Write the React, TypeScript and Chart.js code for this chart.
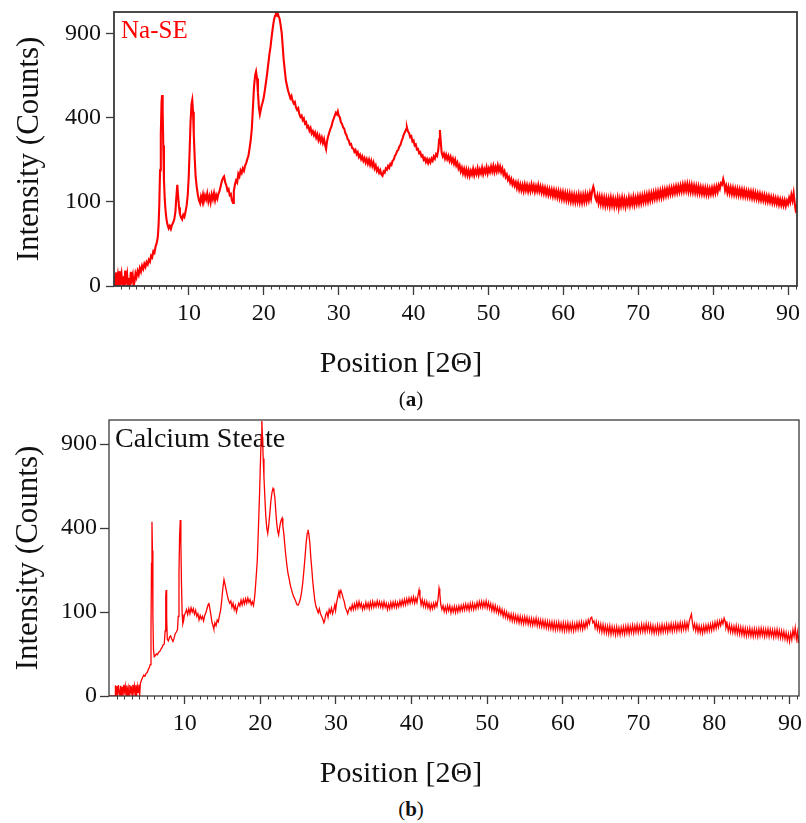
import React, { useEffect, useRef } from 'react';
import { Chart, LinearScale, registerables } from 'chart.js';

// ---------------- data (2θ in degrees, intensity in counts) ----------------
const xMajorTicks = [10, 20, 30, 40, 50, 60, 70, 80, 90];
const yTickValues = [0, 100, 400, 900];
const xTitleText = 'Position [2Θ]';
const yTitleText = 'Intensity (Counts)';

const naSE: [number, number][] = [
  [0,1.2],[0.12,0],[0.25,2.6],[0.37,0.2],[0.5,1.6],[0.62,0],[0.75,3.1],[0.87,0.4],[1.0,1.9],[1.12,0],[1.25,1.3],[1.37,0],[1.5,3.4],[1.62,0.5],[1.75,2.0],[1.87,0],[2.0,0.9],[2.12,0],[2.25,2.8],[2.37,0.6],[2.5,1.7],[2.62,0],[2.75,0.3],[2.87,2.2],[3.0,1.1],
  [3.15,3.2],[3.3,1.8],[3.45,4.5],[3.6,2.9],[3.75,5.8],[3.9,4.1],[4.05,6.9],[4.2,5.2],[4.35,8.1],[4.5,6.6],[4.65,9.8],[4.8,8.4],[4.95,13],[5.1,11.5],[5.25,17],[5.4,15.5],[5.55,22],[5.7,26],[5.85,34],[5.95,52],
  [6.05,95],[6.15,190],[6.25,330],[6.35,480],[6.42,517],[6.5,430],[6.58,280],[6.67,160],[6.78,105],[6.9,78],[7.02,62],[7.15,53],[7.3,47],[7.45,51],[7.6,46],[7.75,53],[7.9,57],[8.05,63],[8.2,78],[8.32,110],[8.45,145],[8.55,118],[8.68,88],[8.8,74],[8.95,67],[9.1,63],[9.25,72],[9.4,68],[9.55,78],[9.7,92],[9.85,118],[9.98,170],[10.1,260],[10.22,380],[10.35,470],[10.45,490],[10.55,430],[10.65,330],[10.78,230],[10.9,170],[11.05,138],[11.2,118],[11.35,104],[11.5,97],[11.62,113],[11.75,104],[11.88,118],[12.0,102],[12.15,116],[12.3,106],[12.45,121],[12.6,101],[12.75,114],[12.9,99],[13.05,119],[13.2,107],[13.35,122],[13.5,104],[13.65,117],[13.8,108],[13.95,121],[14.1,128],[14.25,142],[14.4,156],[14.55,165],[14.7,170],[14.85,152],[15.0,144],[15.15,129],[15.3,133],[15.45,117],[15.6,120],[15.75,104],[15.9,98],[16.0,128],[16.15,146],[16.3,158],[16.45,152],[16.6,178],[16.75,170],[16.9,189],[17.05,181],[17.2,196],[17.35,188],[17.5,205],[17.65,214],[17.8,228],[17.95,240],[18.1,268],[18.25,300],[18.4,350],[18.55,450],[18.7,565],[18.85,630],[18.97,652],[19.1,610],[19.22,530],[19.35,450],[19.48,418],[19.6,440],[19.72,462],[19.85,478],[20.0,505],[20.15,545],[20.3,590],[20.45,640],[20.6,700],[20.75,760],[20.9,810],[21.05,880],[21.2,945],[21.35,1000],[21.5,1035],[21.62,1052],[21.75,1040],[21.85,1058],[21.98,1030],[22.1,1015],[22.25,965],[22.4,905],[22.52,820],[22.65,730],[22.8,660],[22.95,600],[23.1,568],[23.25,540],[23.4,520],[23.55,500],[23.7,512],[23.85,485],[24.0,472],[24.15,480],[24.3,452],[24.45,440],[24.6,448],[24.75,418],[24.9,405],[25.05,412],[25.2,390],[25.35,398],[25.5,374],[25.65,380],[25.8,356],[25.95,362],[26.1,342],[26.25,354],[26.4,330],[26.55,340],[26.7,322],[26.85,334],[27.0,312],[27.15,326],[27.3,302],[27.45,318],[27.6,296],[27.75,312],[27.9,290],[28.05,306],[28.2,280],[28.32,266],[28.45,298],[28.6,318],[28.75,335],[28.9,350],[29.05,362],[29.2,384],[29.35,398],[29.5,414],[29.62,425],[29.75,418],[29.88,432],[30.0,412],[30.15,404],[30.3,380],[30.45,372],[30.6,356],[30.75,350],[30.9,330],[31.05,322],[31.2,306],[31.35,300],[31.5,284],[31.65,286],[31.8,270],[31.95,268],[32.1,255],[32.25,262],[32.4,246],[32.55,254],[32.7,236],[32.85,244],[33.0,228],[33.15,238],[33.3,222],[33.45,232],[33.6,216],[33.75,228],[33.9,212],[34.05,226],[34.2,208],[34.35,222],[34.5,204],[34.65,216],[34.8,196],[34.95,206],[35.1,188],[35.25,196],[35.4,182],[35.55,190],[35.7,176],[35.85,172],[36.0,186],[36.15,182],[36.3,196],[36.45,192],[36.6,204],[36.75,198],[36.9,212],[37.05,208],[37.2,222],[37.35,226],[37.5,240],[37.65,246],[37.8,258],[37.95,262],[38.1,276],[38.25,282],[38.4,298],[38.55,310],[38.7,326],[38.85,336],[39.0,348],[39.12,356],[39.25,338],[39.4,332],[39.55,314],[39.7,318],[39.85,296],[40.0,300],[40.15,280],[40.3,284],[40.45,264],[40.6,266],[40.75,250],[40.9,254],[41.05,238],[41.2,242],[41.35,226],[41.5,232],[41.65,218],[41.8,228],[41.95,214],[42.1,226],[42.25,216],[42.4,230],[42.55,222],[42.7,238],[42.85,230],[43.0,246],[43.15,240],[43.3,262],[43.42,305],[43.52,345],[43.62,300],[43.75,252],[43.9,238],[44.05,248],[44.2,230],[44.35,244],[44.5,228],[44.65,240],[44.8,222],[44.95,236],[45.1,218],[45.25,230],[45.4,212],[45.55,226],[45.7,206],[45.85,216],[46.0,196],[46.15,206],[46.3,186],[46.45,198],[46.6,180],[46.75,194],[46.9,176],[47.05,192],[47.2,174],[47.35,190],[47.5,172],[47.65,188],[47.8,176],[47.95,194],[48.1,174],[48.25,190],[48.4,178],[48.55,196],[48.7,176],[48.85,192],[49.0,180],[49.15,198],[49.3,178],[49.45,194],[49.6,182],[49.75,200],[49.9,180],[50.05,196],[50.2,184],[50.35,202],[50.5,186],[50.65,204],[50.8,184],[50.95,200],[51.1,186],[51.25,206],[51.4,188],[51.55,202],[51.7,184],[51.85,196],[52.0,176],[52.15,186],[52.3,168],[52.45,176],[52.6,160],[52.75,168],[52.9,152],[53.05,162],[53.2,146],[53.35,156],[53.5,142],[53.65,152],[53.8,136],[53.95,150],[54.1,132],[54.25,146],[54.4,130],[54.55,144],[54.7,128],[54.85,146],[55.0,130],[55.15,144],[55.3,127],[55.45,142],[55.6,128],[55.75,146],[55.9,130],[56.05,143],[56.2,126],[56.35,141],[56.5,128],[56.65,144],[56.8,127],[56.95,140],[57.1,124],[57.25,138],[57.4,122],[57.55,136],[57.7,120],[57.85,134],[58.0,118],[58.15,132],[58.3,117],[58.45,131],[58.6,115],[58.75,130],[58.9,114],[59.05,128],[59.2,112],[59.35,127],[59.5,110],[59.65,125],[59.8,108],[59.95,124],[60.1,107],[60.25,122],[60.4,105],[60.55,121],[60.7,104],[60.85,120],[61.0,102],[61.15,118],[61.3,101],[61.45,117],[61.6,100],[61.75,116],[61.9,101],[62.05,118],[62.2,100],[62.35,116],[62.5,99],[62.65,117],[62.8,101],[62.95,119],[63.1,102],[63.25,118],[63.4,104],[63.55,122],[63.7,108],[63.85,128],[64.0,140],[64.1,132],[64.25,112],[64.4,104],[64.55,116],[64.7,98],[64.85,113],[65.0,96],[65.15,112],[65.3,94],[65.45,110],[65.6,92],[65.75,109],[65.9,93],[66.05,108],[66.2,91],[66.35,110],[66.5,93],[66.65,108],[66.8,90],[66.95,106],[67.1,92],[67.25,109],[67.4,88],[67.55,107],[67.7,92],[67.85,110],[68.0,93],[68.15,108],[68.3,90],[68.45,106],[68.6,94],[68.75,111],[68.9,93],[69.05,109],[69.2,95],[69.35,112],[69.5,94],[69.65,110],[69.8,96],[69.95,113],[70.1,97],[70.25,114],[70.4,98],[70.55,115],[70.7,100],[70.85,117],[71.0,101],[71.15,118],[71.3,102],[71.45,120],[71.6,104],[71.75,121],[71.9,106],[72.05,123],[72.2,108],[72.35,125],[72.5,109],[72.65,126],[72.8,111],[72.95,128],[73.1,112],[73.25,130],[73.4,114],[73.55,131],[73.7,116],[73.85,133],[74.0,118],[74.15,135],[74.3,120],[74.45,136],[74.6,121],[74.75,138],[74.9,123],[75.05,140],[75.2,124],[75.35,141],[75.5,126],[75.65,143],[75.8,127],[75.95,145],[76.1,128],[76.25,146],[76.4,129],[76.55,147],[76.7,127],[76.85,145],[77.0,126],[77.15,144],[77.3,125],[77.45,142],[77.6,124],[77.75,141],[77.9,123],[78.05,140],[78.2,122],[78.35,138],[78.5,121],[78.65,137],[78.8,120],[78.95,136],[79.1,119],[79.25,135],[79.4,118],[79.55,134],[79.7,120],[79.85,136],[80.0,121],[80.15,138],[80.3,123],[80.45,140],[80.6,126],[80.75,144],[80.9,134],[81.05,150],[81.2,146],[81.35,162],[81.48,150],[81.6,130],[81.75,142],[81.9,124],[82.05,139],[82.2,122],[82.35,137],[82.5,120],[82.65,136],[82.8,119],[82.95,134],[83.1,118],[83.25,133],[83.4,117],[83.55,132],[83.7,116],[83.85,131],[84.0,115],[84.15,130],[84.3,114],[84.45,128],[84.6,113],[84.75,127],[84.9,112],[85.05,126],[85.2,110],[85.35,125],[85.5,109],[85.65,123],[85.8,108],[85.95,121],[86.1,106],[86.25,120],[86.4,105],[86.55,118],[86.7,104],[86.85,117],[87.0,102],[87.15,115],[87.3,101],[87.45,114],[87.6,100],[87.75,112],[87.9,98],[88.05,111],[88.2,97],[88.35,109],[88.5,96],[88.65,108],[88.8,94],[88.95,106],[89.1,93],[89.25,105],[89.4,92],[89.55,104],[89.7,91],[89.85,103],[90.0,95],[90.15,110],[90.3,100],[90.45,118],[90.6,104],[90.75,122],[90.9,96],[91.0,84],[91.1,90],[91.2,76],
];

const calciumSteate: [number, number][] = [
  [0,0],[0.4,0],[0.8,0],
  [0.85,1.6],[0.95,0],[1.05,1.4],[1.15,0],[1.25,1.7],[1.35,0.2],[1.45,0],[1.55,1.5],[1.65,0],[1.75,1.2],[1.85,0],[1.95,1.8],[2.05,0.3],[2.15,1.4],[2.25,0],[2.35,1.6],[2.45,0],[2.55,0.8],[2.65,0],[2.75,1.7],[2.85,0.1],[2.95,1.3],[3.05,0],[3.15,1.8],[3.25,0.4],[3.35,1.5],[3.45,0],[3.55,1.7],[3.65,0],[3.75,1.3],[3.85,0.2],[3.95,1.8],[4.05,0],
  [4.15,2.3],[4.3,3.6],[4.45,5],[4.6,6.2],[4.75,5.5],[4.9,7.3],[5.05,7.8],[5.2,10],[5.35,12],[5.45,14],[5.55,60],[5.62,250],[5.68,431],[5.74,300],[5.8,90],[5.88,30],[5.98,22],[6.1,23],[6.25,25],[6.4,24],[6.55,27],[6.7,28],[6.85,31],[7.0,33],[7.15,37],[7.3,38],[7.42,60],[7.5,140],[7.55,159],[7.62,90],[7.7,46],[7.85,43],[8.0,49],[8.15,51],[8.3,46],[8.45,42],[8.6,47],[8.75,55],[8.9,58],[9.05,62],[9.15,90],[9.25,220],[9.33,360],[9.42,439],[9.5,330],[9.58,180],[9.67,95],[9.76,74],[9.86,80],[9.96,92],[10.1,98],[10.25,106],[10.4,94],[10.55,108],[10.7,96],[10.85,110],[11.0,100],[11.15,108],[11.3,95],[11.45,104],[11.6,90],[11.75,96],[11.9,82],[12.05,92],[12.2,84],[12.35,90],[12.5,80],[12.65,92],[12.8,98],[12.95,108],[13.1,118],[13.2,123],[13.3,112],[13.45,95],[13.6,78],[13.75,70],[13.85,64],[14.0,76],[14.15,70],[14.3,82],[14.45,78],[14.6,92],[14.75,104],[14.9,130],[15.05,165],[15.2,192],[15.35,175],[15.5,158],[15.65,142],[15.8,130],[15.95,122],[16.1,128],[16.25,112],[16.4,122],[16.55,106],[16.7,116],[16.85,100],[17.0,112],[17.15,122],[17.3,115],[17.45,130],[17.6,118],[17.75,132],[17.9,120],[18.05,134],[18.2,122],[18.35,136],[18.5,124],[18.65,132],[18.8,118],[18.95,126],[19.1,116],[19.2,130],[19.3,150],[19.45,200],[19.6,260],[19.75,400],[19.9,580],[20.02,780],[20.12,960],[20.2,1072],[20.28,960],[20.38,800],[20.48,680],[20.6,560],[20.72,460],[20.85,400],[20.98,375],[21.1,410],[21.25,470],[21.4,540],[21.55,590],[21.68,611],[21.8,595],[21.92,560],[22.05,480],[22.18,420],[22.3,385],[22.42,368],[22.54,400],[22.66,425],[22.78,440],[22.88,448],[22.98,410],[23.1,375],[23.22,330],[23.35,285],[23.5,245],[23.65,215],[23.8,196],[23.95,176],[24.1,162],[24.25,150],[24.4,140],[24.55,134],[24.7,126],[24.85,118],[25.0,117],[25.15,124],[25.3,134],[25.45,152],[25.6,180],[25.75,220],[25.9,270],[26.05,330],[26.2,375],[26.3,392],[26.42,370],[26.55,330],[26.68,270],[26.8,230],[26.92,190],[27.05,158],[27.2,130],[27.35,114],[27.5,106],[27.65,98],[27.8,108],[27.95,96],[28.1,90],[28.25,84],[28.4,76],[28.5,80],[28.65,94],[28.8,100],[28.95,88],[29.1,106],[29.25,98],[29.4,110],[29.55,96],[29.7,105],[29.85,118],[29.95,104],[30.1,125],[30.25,140],[30.4,155],[30.5,146],[30.65,158],[30.8,148],[30.95,135],[31.1,126],[31.25,110],[31.4,104],[31.55,96],[31.7,106],[31.85,112],[32.0,104],[32.15,118],[32.3,106],[32.45,120],[32.6,108],[32.75,124],[32.9,110],[33.05,126],[33.2,112],[33.35,122],[33.5,106],[33.65,118],[33.8,108],[33.95,124],[34.1,110],[34.25,122],[34.4,108],[34.55,125],[34.7,111],[34.85,127],[35.0,112],[35.15,124],[35.3,113],[35.45,128],[35.6,114],[35.75,126],[35.9,112],[36.05,124],[36.2,110],[36.35,126],[36.5,112],[36.65,122],[36.8,106],[36.95,120],[37.1,108],[37.25,124],[37.4,110],[37.55,125],[37.7,112],[37.85,126],[38.0,111],[38.15,124],[38.3,113],[38.45,128],[38.6,115],[38.75,130],[38.9,117],[39.05,132],[39.2,118],[39.35,134],[39.5,121],[39.65,136],[39.8,122],[39.95,137],[40.1,124],[40.25,139],[40.4,122],[40.55,136],[40.7,124],[40.85,144],[40.98,159],[41.1,140],[41.25,118],[41.4,132],[41.55,114],[41.7,128],[41.85,112],[42.0,126],[42.15,110],[42.3,122],[42.45,106],[42.6,120],[42.75,108],[42.9,122],[43.05,110],[43.2,124],[43.35,114],[43.5,135],[43.62,164],[43.72,150],[43.85,118],[44.0,106],[44.15,116],[44.3,101],[44.45,113],[44.6,100],[44.75,116],[44.9,103],[45.05,115],[45.2,98],[45.35,112],[45.5,100],[45.65,114],[45.8,99],[45.95,113],[46.1,100],[46.25,115],[46.4,102],[46.55,116],[46.7,104],[46.85,118],[47.0,105],[47.15,120],[47.3,106],[47.45,119],[47.6,104],[47.75,121],[47.9,107],[48.05,122],[48.2,106],[48.35,120],[48.5,108],[48.65,124],[48.8,110],[48.95,126],[49.1,112],[49.25,127],[49.4,111],[49.55,126],[49.7,112],[49.85,128],[50.0,110],[50.15,124],[50.3,108],[50.45,121],[50.6,104],[50.75,118],[50.9,102],[51.05,116],[51.2,100],[51.35,112],[51.5,97],[51.65,110],[51.8,95],[51.95,106],[52.1,90],[52.25,103],[52.4,88],[52.55,100],[52.7,85],[52.85,96],[53.0,82],[53.15,95],[53.3,80],[53.45,94],[53.6,79],[53.75,92],[53.9,78],[54.05,91],[54.2,76],[54.35,90],[54.5,75],[54.65,88],[54.8,74],[54.95,89],[55.1,75],[55.25,88],[55.4,73],[55.55,86],[55.7,72],[55.85,85],[56.0,71],[56.15,84],[56.3,72],[56.45,86],[56.6,70],[56.75,83],[56.9,69],[57.05,82],[57.2,68],[57.35,81],[57.5,67],[57.65,80],[57.8,66],[57.95,79],[58.1,65],[58.25,78],[58.4,64],[58.55,78],[58.7,63],[58.85,77],[59.0,62],[59.15,76],[59.3,63],[59.45,77],[59.6,62],[59.75,75],[59.9,61],[60.05,76],[60.2,60],[60.35,75],[60.5,61],[60.65,76],[60.8,60],[60.95,74],[61.1,61],[61.25,75],[61.4,60],[61.55,74],[61.7,62],[61.85,76],[62.0,63],[62.15,77],[62.3,64],[62.45,78],[62.6,63],[62.75,76],[62.9,65],[63.05,79],[63.2,68],[63.35,82],[63.5,74],[63.65,86],[63.8,88],[63.95,76],[64.1,80],[64.25,66],[64.4,78],[64.55,63],[64.7,75],[64.85,60],[65.0,73],[65.15,58],[65.3,72],[65.45,57],[65.6,70],[65.75,56],[65.9,69],[66.05,55],[66.2,70],[66.35,54],[66.5,68],[66.65,55],[66.8,67],[66.95,53],[67.1,68],[67.25,54],[67.4,66],[67.55,53],[67.7,67],[67.85,55],[68.0,68],[68.15,54],[68.3,69],[68.45,56],[68.6,70],[68.75,55],[68.9,69],[69.05,57],[69.2,71],[69.35,56],[69.5,70],[69.65,58],[69.8,72],[69.95,57],[70.1,70],[70.25,58],[70.4,73],[70.55,59],[70.7,72],[70.85,58],[71.0,74],[71.15,60],[71.3,73],[71.45,59],[71.6,72],[71.75,57],[71.9,70],[72.05,56],[72.2,69],[72.35,57],[72.5,71],[72.65,56],[72.8,70],[72.95,57],[73.1,72],[73.25,58],[73.4,71],[73.55,59],[73.7,73],[73.85,58],[74.0,72],[74.15,60],[74.3,74],[74.45,59],[74.6,73],[74.75,61],[74.9,75],[75.05,60],[75.2,74],[75.35,62],[75.5,76],[75.65,61],[75.8,75],[75.95,63],[76.1,77],[76.25,62],[76.4,76],[76.55,64],[76.7,80],[76.85,88],[76.98,95],[77.1,78],[77.25,64],[77.4,74],[77.55,60],[77.7,72],[77.85,58],[78.0,70],[78.15,57],[78.3,69],[78.45,56],[78.6,70],[78.75,58],[78.9,71],[79.05,59],[79.2,72],[79.35,60],[79.5,73],[79.65,61],[79.8,75],[79.95,63],[80.1,77],[80.25,65],[80.4,79],[80.55,67],[80.7,80],[80.85,70],[81.0,82],[81.15,74],[81.3,86],[81.42,80],[81.55,66],[81.7,74],[81.85,60],[82.0,72],[82.15,58],[82.3,70],[82.45,57],[82.6,69],[82.75,56],[82.9,70],[83.05,55],[83.2,68],[83.35,54],[83.5,67],[83.65,53],[83.8,66],[83.95,52],[84.1,65],[84.25,51],[84.4,64],[84.55,52],[84.7,65],[84.85,51],[85.0,63],[85.15,50],[85.3,64],[85.45,51],[85.6,63],[85.75,50],[85.9,64],[86.05,51],[86.2,65],[86.35,52],[86.5,64],[86.65,50],[86.8,63],[86.95,51],[87.1,64],[87.25,50],[87.4,63],[87.55,51],[87.7,62],[87.85,49],[88.0,62],[88.15,50],[88.3,63],[88.45,49],[88.6,61],[88.75,48],[88.9,60],[89.05,47],[89.2,59],[89.35,46],[89.5,57],[89.65,44],[89.8,55],[89.95,42],[90.1,56],[90.25,45],[90.4,62],[90.55,50],[90.7,66],[90.85,46],[91.0,58],[91.1,40],[91.2,52],
];

// ---------------- square-root intensity scale ----------------
class SqrtScale extends LinearScale {
  static id = 'sqrt';
  static defaults = LinearScale.defaults;
  getPixelForValue(value: number) {
    const lo = Math.sqrt(Math.max(0, this.min));
    const hi = Math.sqrt(Math.max(0, this.max));
    const v = Math.sqrt(Math.max(0, value));
    return this.getPixelForDecimal((v - lo) / (hi - lo));
  }
  getValueForPixel(pixel: number) {
    const lo = Math.sqrt(Math.max(0, this.min));
    const hi = Math.sqrt(Math.max(0, this.max));
    const s = lo + this.getDecimalForPixel(pixel) * (hi - lo);
    return s * s;
  }
}

Chart.register(...registerables, SqrtScale as any);

const FONT = '"Liberation Serif", "Times New Roman", serif';
const TEXT = '#111111';
const AXIS = '#3a3a3a';

type PanelCfg = {
  top: number;
  height: number;
  points: [number, number][];
  lineWidth: number;
  frameWidth: number;
  padTop: number;
  padRight: number;
  yWidth: number;
  xHeight: number;
  yMax: number;
  xTickLen: number;
  xTickPad: number;
  yTickLen: number;
  yTickPad: number;
  xTitleX: number;
  xTitleY: number;
  yTitlePadTop: number;
  label: string;
  labelColor: string;
  labelSize: number;
  labelDx: number;
  labelDy: number;
};

function makeFramePlugin(cfg: PanelCfg) {
  return {
    id: 'frameAndLabel',
    beforeDatasetsDraw(chart: any) {
      const { ctx, chartArea } = chart;
      ctx.save();
      ctx.font = `${cfg.labelSize}px ${FONT}`;
      ctx.fillStyle = cfg.labelColor;
      ctx.textBaseline = 'alphabetic';
      ctx.textAlign = 'left';
      ctx.fillText(cfg.label, chartArea.left + cfg.labelDx, chartArea.top + cfg.labelDy);
      ctx.restore();
    },
    afterDatasetsDraw(chart: any) {
      const { ctx, chartArea } = chart;
      const xs = chart.scales.x;
      ctx.save();
      ctx.strokeStyle = AXIS;
      ctx.lineWidth = cfg.frameWidth;
      ctx.strokeRect(chartArea.left, chartArea.top, chartArea.right - chartArea.left, chartArea.bottom - chartArea.top);
      // minor ticks every 1 degree
      ctx.lineWidth = 1;
      ctx.beginPath();
      for (let d = 1; d <= 91; d++) {
        if (d % 10 === 0) continue;
        const px = Math.round(xs.getPixelForValue(d)) + 0.5;
        ctx.moveTo(px, chartArea.bottom);
        ctx.lineTo(px, chartArea.bottom + 3.5);
      }
      ctx.stroke();
      // x-axis title (centred on the figure, as in the original)
      ctx.font = `30px ${FONT}`;
      ctx.fillStyle = TEXT;
      ctx.textAlign = 'center';
      ctx.textBaseline = 'middle';
      ctx.fillText(xTitleText, cfg.xTitleX, cfg.xTitleY);
      ctx.restore();
    },
  };
}

function Panel({ cfg }: { cfg: PanelCfg }) {
  const ref = useRef<HTMLCanvasElement | null>(null);
  useEffect(() => {
    if (!ref.current) return;
    const chart = new Chart(ref.current, {
      type: 'line',
      data: {
        datasets: [
          {
            data: cfg.points.map(([x, y]) => ({ x, y })),
            borderColor: '#ff0000',
            borderWidth: cfg.lineWidth,
            pointRadius: 0,
            fill: false,
            tension: 0,
          },
        ],
      },
      options: {
        animation: false,
        responsive: false,
        events: [],
        layout: { padding: { top: cfg.padTop, right: cfg.padRight, left: 0, bottom: 0 } },
        plugins: { legend: { display: false }, tooltip: { enabled: false } },
        scales: {
          x: {
            type: 'linear',
            min: 0,
            max: 91.2,
            afterBuildTicks: (s: any) => {
              s.ticks = xMajorTicks.map((v) => ({ value: v }));
            },
            afterFit: (s: any) => {
              s.height = cfg.xHeight;
              s.paddingLeft = 0;
              s.paddingRight = 0;
            },
            ticks: {
              autoSkip: false,
              maxRotation: 0,
              padding: cfg.xTickPad,
              color: TEXT,
              font: { family: FONT, size: 24 },
              callback: (v: any) => String(v),
            },
            grid: {
              drawOnChartArea: false,
              drawTicks: true,
              tickLength: cfg.xTickLen,
              tickColor: AXIS,
              tickWidth: 1.3,
            },
            border: { display: false },
            title: { display: false },
          },
          y: {
            type: 'sqrt' as any,
            min: 0,
            max: cfg.yMax,
            afterBuildTicks: (s: any) => {
              s.ticks = yTickValues.map((v) => ({ value: v }));
            },
            afterFit: (s: any) => {
              s.width = cfg.yWidth;
              s.paddingTop = 0;
              s.paddingBottom = 0;
            },
            ticks: {
              padding: cfg.yTickPad,
              color: TEXT,
              font: { family: FONT, size: 24 },
              callback: (v: any) => String(v),
            },
            grid: {
              drawOnChartArea: false,
              drawTicks: true,
              tickLength: cfg.yTickLen,
              tickColor: AXIS,
              tickWidth: 1.3,
            },
            border: { display: false },
            title: {
              display: true,
              text: yTitleText,
              color: TEXT,
              font: { family: FONT, size: 31 },
              padding: { top: cfg.yTitlePadTop, bottom: 0 },
            },
          },
        },
      } as any,
      plugins: [makeFramePlugin(cfg)],
    });
    return () => chart.destroy();
  }, [cfg]);
  return (
    <canvas
      ref={ref}
      width={806}
      height={cfg.height}
      style={{ position: 'absolute', left: 0, top: cfg.top, width: 806, height: cfg.height, display: 'block' }}
    />
  );
}

const panelA: PanelCfg = {
  top: 0,
  height: 385,
  points: naSE,
  lineWidth: 2.1,
  frameWidth: 1.8,
  padTop: 12,
  padRight: 9,
  yWidth: 114,
  xHeight: 99,
  yMax: 1064,
  xTickLen: 9,
  xTickPad: 4,
  yTickLen: 8,
  yTickPad: 5,
  xTitleX: 401,
  xTitleY: 364,
  yTitlePadTop: 11,
  label: 'Na-SE',
  labelColor: '#ff0000',
  labelSize: 25,
  labelDx: 7,
  labelDy: 26,
};

const panelB: PanelCfg = {
  top: 400,
  height: 396,
  points: calciumSteate,
  lineWidth: 1.3,
  frameWidth: 1.3,
  padTop: 20,
  padRight: 7,
  yWidth: 109,
  xHeight: 100,
  yMax: 1080,
  xTickLen: 8,
  xTickPad: 5,
  yTickLen: 9,
  yTickPad: 3,
  xTitleX: 401,
  xTitleY: 374,
  yTitlePadTop: 10.5,
  label: 'Calcium Steate',
  labelColor: '#111111',
  labelSize: 28,
  labelDx: 6,
  labelDy: 27,
};

const captionStyle = (top: number): React.CSSProperties => ({
  position: 'absolute',
  left: 381,
  width: 60,
  top,
  height: 24,
  lineHeight: '24px',
  textAlign: 'center',
  fontFamily: FONT,
  fontSize: 21,
  color: TEXT,
});

export default function App() {
  return (
    <div style={{ position: 'absolute', left: 0, top: 0, width: 806, height: 823, overflow: 'hidden', background: '#ffffff' }}>
      <Panel cfg={panelA} />
      <Panel cfg={panelB} />
      <div style={captionStyle(387)}>
        (<b>a</b>)
      </div>
      <div style={captionStyle(797)}>
        (<b>b</b>)
      </div>
    </div>
  );
}
